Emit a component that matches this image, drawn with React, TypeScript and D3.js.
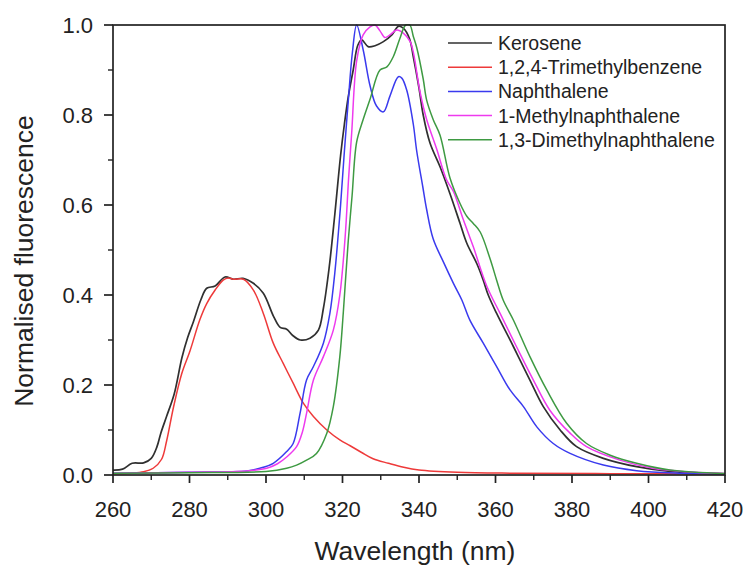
import React from "react";
import * as d3 from "d3";

type P = [number, number];

const xTicks = [260, 280, 300, 320, 340, 360, 380, 400, 420];
const yTicks = [0, 0.2, 0.4, 0.6, 0.8, 1.0];
const seriesNames = ["Kerosene", "1,2,4-Trimethylbenzene", "Naphthalene", "1-Methylnaphthalene", "1,3-Dimethylnaphthalene"];
const seriesColors = ["#303030", "#ee3a3a", "#3a3aee", "#ee3aee", "#3e9a42"];

const kerosene: P[] = [
  [260, 0.011], [262.5, 0.013], [265, 0.026], [268, 0.027], [270, 0.037], [271.5, 0.063], [272.5, 0.093],
  [274, 0.13], [276, 0.18], [278, 0.26], [279.5, 0.305], [281, 0.34], [283, 0.39], [284.5, 0.415],
  [286.7, 0.42], [289.3, 0.44], [291.5, 0.435], [294, 0.437], [296.7, 0.426], [299.3, 0.404],
  [302, 0.352], [303.7, 0.328], [305.4, 0.324], [307, 0.31], [309, 0.3], [311.5, 0.304], [313.7, 0.322],
  [315, 0.37], [316.5, 0.46], [318, 0.58], [319.5, 0.71], [320.5, 0.78], [321.5, 0.84], [322.8, 0.9],
  [324, 0.955], [325, 0.967], [326.7, 0.952], [328.5, 0.954], [330.7, 0.963], [332.9, 0.978],
  [334.6, 0.997], [335.9, 0.993], [337.5, 0.97], [338.5, 0.93], [340, 0.86], [341.1, 0.8],
  [342.9, 0.737], [345.5, 0.685], [348.1, 0.625], [350.7, 0.56], [352.5, 0.515], [355.1, 0.47],
  [356.8, 0.433], [358.1, 0.4], [360.3, 0.359], [364.7, 0.285], [369, 0.211], [372.5, 0.152],
  [376.9, 0.1], [381.2, 0.063], [388.2, 0.037], [396.9, 0.0185], [405.6, 0.008], [420, 0.003],
];

const trimethylbenzene: P[] = [
  [260, 0.003], [265, 0.004], [268, 0.007], [270.5, 0.015], [272.7, 0.035], [274, 0.075], [275.8, 0.15],
  [278, 0.226], [280.1, 0.275], [282.7, 0.345], [284.5, 0.381], [286.7, 0.411], [288.8, 0.433],
  [290.1, 0.438], [291.5, 0.435], [294.1, 0.435], [296.7, 0.411], [299.3, 0.359], [301.9, 0.293],
  [304.5, 0.248], [307.1, 0.204], [309.8, 0.159], [312.4, 0.13], [315.9, 0.1], [319.3, 0.078],
  [322, 0.065], [325, 0.05], [328, 0.036], [332, 0.026], [336, 0.017], [340, 0.011], [350, 0.006],
  [365, 0.004], [390, 0.003], [420, 0.002],
];

const naphthalene: P[] = [
  [260, 0.004], [280, 0.006], [295, 0.009], [298.4, 0.015], [301.9, 0.026], [305.4, 0.052],
  [307.1, 0.07], [308.9, 0.137], [310.6, 0.211], [312.4, 0.241], [315, 0.293], [316.7, 0.359],
  [318, 0.45], [319.5, 0.6], [320.5, 0.72], [321.5, 0.83], [322.6, 0.94], [323.7, 1.0], [325.4, 0.945],
  [327.2, 0.865], [328.9, 0.82], [330.7, 0.807], [332.4, 0.842], [334.6, 0.885], [335.5, 0.882],
  [336.8, 0.855], [338.5, 0.78], [339.4, 0.72], [341, 0.64], [342, 0.59], [343.7, 0.525],
  [346.4, 0.473], [349, 0.426], [351.2, 0.389], [353.3, 0.344], [356.8, 0.293], [360.3, 0.241],
  [363.8, 0.189], [367.3, 0.152], [370.8, 0.107], [375.1, 0.07], [379.5, 0.048], [388.2, 0.022],
  [396.9, 0.0096], [409, 0.004], [420, 0.002],
];

const methylnaphthalene: P[] = [
  [260, 0.004], [280, 0.006], [295, 0.009], [300.2, 0.015], [303, 0.025], [305.4, 0.04], [308, 0.063],
  [309.5, 0.095], [310.6, 0.137], [312.4, 0.211], [315, 0.263], [317.6, 0.322], [319.3, 0.4],
  [320.7, 0.53], [321.6, 0.66], [322.4, 0.76], [323.7, 0.92], [325.4, 0.978], [327.2, 0.996],
  [328.5, 1.0], [329.8, 0.987], [331.1, 0.972], [332.4, 0.978], [334.2, 0.989], [335.9, 0.982],
  [337.7, 0.963], [338.5, 0.94], [340.3, 0.85], [342, 0.79], [344.6, 0.725], [347.2, 0.656],
  [349, 0.63], [351.6, 0.567], [354.2, 0.507], [357.7, 0.42], [361.2, 0.359], [365.5, 0.285],
  [369.9, 0.211], [374.2, 0.144], [379.5, 0.093], [383.8, 0.063], [392.5, 0.033], [401.2, 0.015],
  [410, 0.007], [420, 0.003],
];

const dimethylnaphthalene: P[] = [
  [260, 0.004], [280, 0.005], [300, 0.008], [305.4, 0.015], [308, 0.022], [310.6, 0.033],
  [313.2, 0.048], [315.9, 0.093], [317.6, 0.152], [319.3, 0.263], [320.2, 0.36], [321.5, 0.52],
  [322.5, 0.62], [323.7, 0.74], [325.4, 0.79], [327.2, 0.835], [329.8, 0.9], [331.6, 0.907],
  [333.3, 0.93], [335, 0.97], [336.5, 1.0], [337.6, 1.0], [338.5, 0.975], [339.4, 0.95], [341.1, 0.88],
  [342, 0.833], [343.7, 0.79], [345.5, 0.755], [348.1, 0.66], [350.7, 0.604], [352.5, 0.575],
  [354.2, 0.559], [356, 0.54], [358.6, 0.48], [360.3, 0.433], [362, 0.389], [364.7, 0.344],
  [369, 0.263], [373.4, 0.189], [378.6, 0.115], [383.8, 0.07], [390, 0.044], [396.9, 0.026],
  [405.6, 0.011], [420, 0.003],
];

const allSeries = [kerosene, trimethylbenzene, naphthalene, methylnaphthalene, dimethylnaphthalene];

const W = 747, H = 565;
const M = { left: 113, right: 725, top: 25, bottom: 475 };
const FONT = "'Liberation Sans', Arial, Helvetica, sans-serif";
const INK = "#222";

export default function App() {
  const x = d3.scaleLinear().domain([260, 420]).range([M.left, M.right]);
  const y = d3.scaleLinear().domain([0, 1]).range([M.bottom, M.top]);
  const line = d3.line<P>().x((d) => x(d[0])).y((d) => y(d[1])).curve(d3.curveCatmullRom.alpha(0.5));
  const xMinor = d3.range(270, 420, 20);
  const yMinor = d3.range(0.1, 1.0, 0.2);

  return (
    <svg width={W} height={H} style={{ position: "absolute", left: 0, top: 0, background: "#fff" }}>
      <defs>
        <clipPath id="plot">
          <rect x={M.left} y={M.top - 1} width={M.right - M.left} height={M.bottom - M.top + 2} />
        </clipPath>
      </defs>
      <rect x={0} y={0} width={W} height={H} fill="#fff" />
      <g clipPath="url(#plot)">
        {allSeries.map((s, i) => (
          <path key={i} d={line(s) || ""} fill="none" stroke={seriesColors[i]} strokeWidth={i === 0 ? 1.7 : 1.5} />
        ))}
      </g>
      <rect x={M.left} y={M.top} width={M.right - M.left} height={M.bottom - M.top} fill="none" stroke={INK} strokeWidth={1.7} />
      {xTicks.map((t) => (
        <g key={"x" + t}>
          <line x1={x(t)} x2={x(t)} y1={M.bottom} y2={M.bottom + 8} stroke={INK} strokeWidth={1.7} />
          <text x={x(t)} y={517} textAnchor="middle" fontFamily={FONT} fontSize={22} fill={INK}>{t}</text>
        </g>
      ))}
      {xMinor.map((t) => (
        <line key={"xm" + t} x1={x(t)} x2={x(t)} y1={M.bottom} y2={M.bottom + 5} stroke={INK} strokeWidth={1.4} />
      ))}
      {yTicks.map((t) => (
        <g key={"y" + t}>
          <line x1={M.left - 9} x2={M.left} y1={y(t)} y2={y(t)} stroke={INK} strokeWidth={1.7} />
          <text x={93} y={y(t)} dy="0.36em" textAnchor="end" fontFamily={FONT} fontSize={22} fill={INK}>{t.toFixed(1)}</text>
        </g>
      ))}
      {yMinor.map((t) => (
        <line key={"ym" + t} x1={M.left - 5} x2={M.left} y1={y(t)} y2={y(t)} stroke={INK} strokeWidth={1.4} />
      ))}
      <text x={415} y={560} textAnchor="middle" fontFamily={FONT} fontSize={26.5} fill={INK}>Wavelength (nm)</text>
      <text transform={`translate(33,261) rotate(-90)`} textAnchor="middle" fontFamily={FONT} fontSize={26.5} fill={INK}>Normalised fluorescence</text>
      {seriesNames.map((n, i) => {
        const ly = 43 + i * 24.2;
        return (
          <g key={n}>
            <line x1={448} x2={492} y1={ly} y2={ly} stroke={seriesColors[i]} strokeWidth={1.5} />
            <text x={498} y={ly} dy="0.36em" fontFamily={FONT} fontSize={19.5} fill={INK}>{n}</text>
          </g>
        );
      })}
    </svg>
  );
}
